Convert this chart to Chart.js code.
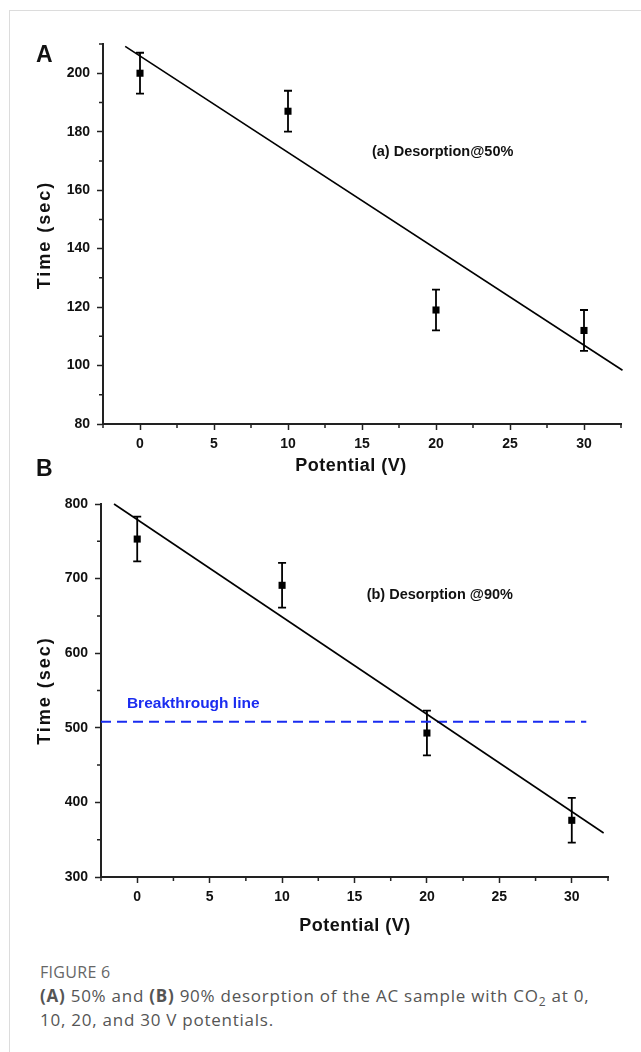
<!DOCTYPE html>
<html>
<head>
<meta charset="utf-8">
<script src="https://cdn.jsdelivr.net/npm/chart.js@4.4.0/dist/chart.umd.min.js"></script>
<style>
  body { margin: 0; background: #fff; width: 641px; height: 1052px; position: relative; overflow: hidden; }
  #frame { position: absolute; left: 9px; top: 10px; width: 700px; height: 1100px; border-left: 1px solid #dcdcdc; border-top: 1px solid #dcdcdc; }
  canvas { position: absolute; left: 0; }
  #chartA { top: 0; }
  #chartB { top: 440px; }
  #caption { position: absolute; left: 40px; top: 960px; font-family: "Open Sans", sans-serif; color: #555; font-size: 17px; line-height: 24px; letter-spacing: 0.75px; }
  #caption .fig { color: #666; font-size: 16px; letter-spacing: 0.3px; }
  #caption sub { font-size: 12px; line-height: 0; }
</style>
</head>
<body>
<div id="frame"></div>
<canvas id="chartA" width="641" height="490"></canvas>
<canvas id="chartB" width="641" height="510"></canvas>
<div id="caption">
  <div class="fig">FIGURE 6</div>
  <div><b>(A)</b> 50% and <b>(B)</b> 90% desorption of the AC sample with CO<sub>2</sub> at 0,<br>10, 20, and 30 V potentials.</div>
</div>
<script>
// values
const potential = [0, 10, 20, 30]
const time50 = [200, 187, 119, 112]
const err50 = [7, 7, 7, 7]
const fit50X = [-1, 32.6]
const fit50Y = [209.2, 98.4]

const time90 = [753, 691, 493, 376]
const err90 = [30, 30, 30, 30]
const fit90X = [-1.6, 32.2]
const fit90Y = [800, 359]
const breakX = [-2.5, 31]
const breakY = [508, 508]

const xTicks = [0, 5, 10, 15, 20, 25, 30]
const xMinor = [-2.5, 2.5, 7.5, 12.5, 17.5, 22.5, 27.5, 32.5]
const yTicksA = [80, 100, 120, 140, 160, 180, 200]
const yMinorA = [90, 110, 130, 150, 170, 190, 210]
const yTicksB = [300, 400, 500, 600, 700, 800]
const yMinorB = [350, 450, 550, 650, 750]

const FONT = 'Arial, "Liberation Sans", sans-serif'
const AXIS = '#222'
const BLUE = '#1a2cf0'

const pts = (xs, ys) => xs.map((x, i) => ({x: x, y: ys[i]}))

// error bars + minor ticks
function extras(ys, errs, xm, ym) {
    return {
        id: 'extras',
        beforeDatasetsDraw(chart) {
            const {ctx, scales: {x, y}} = chart
            ctx.save()
            ctx.strokeStyle = '#000'
            ctx.lineWidth = 1.8
            potential.forEach((v, i) => {
                const px = x.getPixelForValue(v)
                const top = y.getPixelForValue(ys[i] + errs[i])
                const bot = y.getPixelForValue(ys[i] - errs[i])
                ctx.beginPath()
                ctx.moveTo(px, top); ctx.lineTo(px, bot)
                ctx.moveTo(px - 4, top); ctx.lineTo(px + 4, top)
                ctx.moveTo(px - 4, bot); ctx.lineTo(px + 4, bot)
                ctx.stroke()
            })
            ctx.restore()
        },
        afterDraw(chart) {
            const {ctx, scales: {x, y}} = chart
            ctx.save()
            ctx.strokeStyle = AXIS
            ctx.lineWidth = 1.5
            ctx.beginPath()
            xm.forEach(v => {
                const px = x.getPixelForValue(v)
                ctx.moveTo(px, x.top); ctx.lineTo(px, x.top + 4)
            })
            ym.forEach(v => {
                const py = y.getPixelForValue(v)
                ctx.moveTo(y.right - 4, py); ctx.lineTo(y.right, py)
            })
            ctx.stroke()
            ctx.restore()
        }
    }
}

// panel letters, axis titles, notes
function texts(items) {
    return {
        id: 'texts',
        afterDraw(chart) {
            const {ctx, scales: {x, y}} = chart
            items.forEach(t => {
                ctx.save()
                ctx.font = 'bold ' + t.size + 'px ' + FONT
                ctx.fillStyle = t.color || '#111'
                ctx.textAlign = t.align || 'left'
                ctx.textBaseline = t.base || 'middle'
                if (t.spacing && 'letterSpacing' in ctx) ctx.letterSpacing = t.spacing
                let px = t.px, py = t.py
                if (t.vx !== undefined) { px = x.getPixelForValue(t.vx); py = y.getPixelForValue(t.vy) }
                ctx.translate(px, py)
                if (t.rot) ctx.rotate(t.rot)
                ctx.fillText(t.text, 0, 0)
                ctx.restore()
            })
        }
    }
}

function scalesFor(yMin, yMax, yTicks, yWidth, xHeight) {
    const tickFont = {family: FONT, size: 14, weight: 'bold'}
    return {
        x: {
            type: 'linear', min: -2.5, max: 32.5,
            afterBuildTicks: s => { s.ticks = xTicks.map(v => ({value: v})) },
            afterFit: s => { s.height = xHeight },
            grid: {drawOnChartArea: false, tickLength: 6, tickWidth: 1.5, tickColor: AXIS},
            border: {color: AXIS, width: 2},
            ticks: {color: '#111', font: tickFont, padding: 6, maxRotation: 0, autoSkip: false}
        },
        y: {
            type: 'linear', min: yMin, max: yMax,
            afterBuildTicks: s => { s.ticks = yTicks.map(v => ({value: v})) },
            afterFit: s => { s.width = yWidth },
            grid: {drawOnChartArea: false, tickLength: 6, tickWidth: 1.5, tickColor: AXIS},
            border: {color: AXIS, width: 2},
            ticks: {color: '#111', font: tickFont, padding: 7, autoSkip: false}
        }
    }
}

const common = {
    responsive: false,
    animation: false,
    plugins: {legend: {display: false}, tooltip: {enabled: false}}
}

new Chart(document.getElementById('chartA'), {
    type: 'scatter',
    data: {
        datasets: [{
            data: pts(potential, time50),
            pointStyle: 'rect', pointRadius: 5, borderWidth: 0,
            backgroundColor: '#000', clip: false
        }, {
            data: pts(fit50X, fit50Y),
            showLine: true, borderColor: '#000', borderWidth: 1.6, pointRadius: 0, clip: false
        }]
    },
    options: Object.assign({}, common, {
        layout: {padding: {top: 44, right: 20, left: 0, bottom: 0}},
        scales: scalesFor(80, 210, yTicksA, 103, 66)
    }),
    plugins: [extras(time50, err50, xMinor, yMinorA), texts([
        {text: 'A', size: 23, px: 36, py: 62, base: 'alphabetic'},
        {text: 'Time (sec)', size: 18, px: 45, py: 235, align: 'center', rot: -Math.PI / 2, spacing: '2px'},
        {text: 'Potential (V)', size: 18, px: 351, py: 466, align: 'center', spacing: '0.5px'},
        {text: '(a) Desorption@50%', size: 14.5, vx: 15.67, vy: 173.2}
    ])]
})

new Chart(document.getElementById('chartB'), {
    type: 'scatter',
    data: {
        datasets: [{
            data: pts(potential, time90),
            pointStyle: 'rect', pointRadius: 5, borderWidth: 0,
            backgroundColor: '#000', clip: false
        }, {
            data: pts(fit90X, fit90Y),
            showLine: true, borderColor: '#000', borderWidth: 1.6, pointRadius: 0, clip: false
        }, {
            data: pts(breakX, breakY),
            showLine: true, borderColor: BLUE, borderWidth: 2, borderDash: [10, 6], pointRadius: 0, clip: false
        }]
    },
    options: Object.assign({}, common, {
        layout: {padding: {top: 64, right: 33, left: 0, bottom: 0}},
        scales: scalesFor(300, 800, yTicksB, 101, 73)
    }),
    plugins: [extras(time90, err90, xMinor, yMinorB), texts([
        {text: 'B', size: 23, px: 36, py: 36, base: 'alphabetic'},
        {text: 'Time (sec)', size: 18, px: 45, py: 250.5, align: 'center', rot: -Math.PI / 2, spacing: '2px'},
        {text: 'Potential (V)', size: 18, px: 355, py: 486, align: 'center', spacing: '0.5px'},
        {text: '(b) Desorption @90%', size: 14.5, vx: 15.84, vy: 678},
        {text: 'Breakthrough line', size: 15.5, vx: -0.71, vy: 531.8, color: BLUE}
    ])]
})
</script>
</body>
</html>
